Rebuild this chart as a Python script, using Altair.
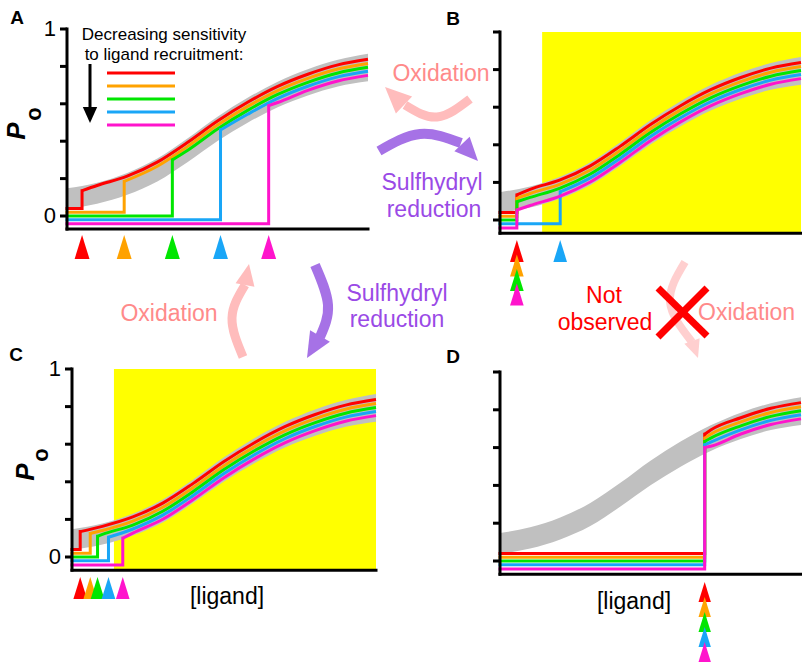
import math
import altair as alt
import pandas as pd

FONT = "Liberation Sans"

# ---------------- data ----------------
SERIES = ["red", "orange", "green", "blue", "magenta"]
SERIES_COLORS = ["#ff0000", "#ffa200", "#00e600", "#19a6f7", "#ff14cc"]

# x = [ligand] (0-100 a.u.), y = Po
CURVE_U = [0, 10, 20, 30, 40, 50, 60, 70, 80, 90, 100]
# centre line of the coloured family
CURVE_PO = [0.09, 0.12, 0.17, 0.245, 0.35, 0.465, 0.565, 0.65, 0.715, 0.765, 0.795]
# grey band edges
GRAY_UPPER = [0.148, 0.178, 0.23, 0.307, 0.414, 0.531, 0.632, 0.718, 0.785, 0.835, 0.867]
GRAY_LOWER = [0.038, 0.066, 0.114, 0.185, 0.288, 0.401, 0.499, 0.582, 0.645, 0.693, 0.72]
SERIES_OFFSET = [0.043, 0.021, 0.0, -0.021, -0.043]
LOW_PO = [0.04, 0.02, 0.0, -0.02, -0.042]

STEP_U = {
    "A": [5, 19, 35, 51, 67],
    "B": [5.6, 5.6, 5.6, 20, 5.6],
    "C": [2.7, 6.0, 8.4, 12.0, 16.7],
    "D": [68, 68, 68, 68, 68],
}
STEP_TOP = {
    "A": [0.135, 0.185, 0.30, 0.46, 0.59],
    "B": [0.133, 0.115, 0.097, 0.15, 0.053],
    "C": [0.135, 0.125, 0.11, 0.105, 0.10],
    "D": [0.67, 0.65, 0.632, 0.615, 0.60],
}
YELLOW_START = {"B": 14.0, "C": 13.8}
Y_TICKS = [0, 0.2, 0.4, 0.6, 0.8, 1.0]
Y_TICK_LABELS = ["0", "1"]
Y_TICK_LABEL_POS = [0, 1]
AXIS_PO = -0.07

# ---------------- layout (pixels) ----------------
PANEL = {
    "A": dict(x0=67, x1=368, y0=216, y1=29, labels=True, tri_tip=235, tri_h=24, tri_step=0),
    "B": dict(x0=500, x1=801, y0=220, y1=32, labels=False, tri_tip=240, tri_h=22, tri_step=14.5),
    "C": dict(x0=72, x1=376, y0=557, y1=369, labels=True, tri_tip=577, tri_h=22, tri_step=0),
    "D": dict(x0=500, x1=801, y0=561, y1=372, labels=False, tri_tip=582, tri_h=20, tri_step=15),
}
TRI_SHAPE = "M0,-1L0.62,1L-0.62,1Z"
HEAD_SHAPE = "M0,-1L0.45,0L-0.45,0Z"
GRAY = "#c0c0c0"
YELLOW = "#ffff00"
PINK_TXT = "#ff8a8a"
PINK_ARW = "#ffbcbc"
PINK_FADED = "#ffcfcf"
PURPLE_TXT = "#9a4ae6"
PURPLE_ARW = "#a672e6"


def panel(name):
    L = PANEL[name]
    xs = alt.Scale(domain=[0, 100], range=[L["x0"], L["x1"]], nice=False, zero=False)
    ys = alt.Scale(domain=[0, 1], range=[L["y0"], L["y1"]], nice=False, zero=False)

    def X(f):
        return alt.X(f, type="quantitative", scale=xs, axis=None)

    def Y(f):
        return alt.Y(f, type="quantitative", scale=ys, axis=None)

    layers = []
    if name in YELLOW_START:
        df = pd.DataFrame({"u0": [YELLOW_START[name]], "u1": [100], "p0": [AXIS_PO], "p1": [1.0]})
        layers.append(alt.Chart(df).mark_rect(color=YELLOW).encode(
            x=X("u0"), x2="u1", y=Y("p0"), y2="p1"))

    gdf = pd.DataFrame({"u": CURVE_U, "lo": GRAY_LOWER, "hi": GRAY_UPPER})
    layers.append(alt.Chart(gdf).mark_area(color=GRAY, opacity=1, interpolate="monotone").encode(
        x=X("u"), y=Y("lo"), y2="hi"))

    steps = STEP_U[name]
    tops = STEP_TOP[name]
    for k in range(5):
        su, top, c = steps[k], tops[k], SERIES_COLORS[k]
        sdf = pd.DataFrame({"u": [0, su, su], "po": [LOW_PO[k], LOW_PO[k], top], "i": [0, 1, 2]})
        layers.append(alt.Chart(sdf).mark_line(color=c, strokeWidth=3, strokeJoin="miter",
                                               strokeCap="square").encode(
            x=X("u"), y=Y("po"), order=alt.Order("i:Q")))
        cu = [su] + [u for u in CURVE_U if u > su + 1]
        cp = [top] + [p + SERIES_OFFSET[k] for u, p in zip(CURVE_U, CURVE_PO) if u > su + 1]
        cdf = pd.DataFrame({"u": cu, "po": cp, "i": list(range(len(cu)))})
        layers.append(alt.Chart(cdf).mark_line(color=c, strokeWidth=3, interpolate="monotone",
                                               strokeCap="butt").encode(
            x=X("u"), y=Y("po"), order=alt.Order("i:Q")))
        row = sum(1 for j in range(k) if steps[j] == su)
        ypix = L["tri_tip"] + row * L["tri_step"] + L["tri_h"] / 2
        tdf = pd.DataFrame({"u": [su]})
        layers.append(alt.Chart(tdf).mark_point(shape=TRI_SHAPE, filled=True, opacity=1, color=c,
                                                size=L["tri_h"] ** 2, strokeWidth=0).encode(
            x=X("u"), y=alt.value(ypix)))

    # axes
    layers.append(alt.Chart(pd.DataFrame({"u": [0], "p0": [AXIS_PO], "p1": [1.0]})).mark_rule(
        color="black", strokeWidth=3, strokeCap="square").encode(x=X("u"), y=Y("p0"), y2="p1"))
    layers.append(alt.Chart(pd.DataFrame({"u0": [0], "u1": [100], "p": [AXIS_PO]})).mark_rule(
        color="black", strokeWidth=3, strokeCap="square").encode(x=X("u0"), x2="u1", y=Y("p")))
    layers.append(alt.Chart(pd.DataFrame({"p": Y_TICKS})).mark_rule(
        color="black", strokeWidth=3).encode(x=alt.value(L["x0"] - 7), x2=alt.value(L["x0"]), y=Y("p")))
    if L["labels"]:
        ldf = pd.DataFrame({"p": Y_TICK_LABEL_POS, "t": Y_TICK_LABELS})
        layers.append(alt.Chart(ldf).mark_text(align="right", baseline="middle", fontSize=22,
                                               font=FONT, color="black").encode(
            x=alt.value(L["x0"] - 11), y=Y("p"), text="t:N"))
    return alt.layer(*layers)


ONE = pd.DataFrame({"a": [0]})


def txt(s, x, y, size=23, color="black", weight="normal", style="normal", align="center", angle=0):
    return alt.Chart(ONE).mark_text(text=s, fontSize=size, font=FONT, color=color, fontWeight=weight,
                                    fontStyle=style, align=align, baseline="middle", angle=angle).encode(
        x=alt.value(x), y=alt.value(y))


CX = alt.Scale(domain=[0, 802], range=[0, 802], nice=False, zero=False)
CY = alt.Scale(domain=[0, 662], range=[0, 662], nice=False, zero=False)

ARROWS = [
    dict(color=PINK_ARW, width=9, path=[(470, 99), (437, 117), (405, 105)], head=((404, 105), (385, 87))),
    dict(color=PURPLE_ARW, width=10, path=[(379, 151), (420, 134), (461, 143)], head=((462, 144), (478, 161))),
    dict(color=PINK_ARW, width=9, path=[(243, 357), (232, 318), (245, 285)], head=((245, 285), (249, 264))),
    dict(color=PURPLE_ARW, width=10, path=[(315, 265), (328, 305), (320, 337)], head=((320, 336), (307, 358))),
    dict(color=PINK_FADED, width=8, path=[(685, 262), (670, 302), (692, 342)], head=((692, 341), (698, 358))),
]


def annotations():
    layers = []
    for a in ARROWS:
        df = pd.DataFrame({"x": [p[0] for p in a["path"]], "y": [p[1] for p in a["path"]],
                           "i": list(range(len(a["path"])))})
        layers.append(alt.Chart(df).mark_line(color=a["color"], strokeWidth=a["width"],
                                              interpolate="natural", strokeCap="butt").encode(
            x=alt.X("x:Q", scale=CX, axis=None), y=alt.Y("y:Q", scale=CY, axis=None),
            order=alt.Order("i:Q")))
        (ax, ay), (tx, ty) = a["head"]
        length = math.hypot(tx - ax, ty - ay)
        ang = math.degrees(math.atan2(tx - ax, -(ty - ay))) % 360
        layers.append(alt.Chart(ONE).mark_point(shape=HEAD_SHAPE, filled=True, opacity=1,
                                                color=a["color"], strokeWidth=0,
                                                size=(2 * length) ** 2, angle=ang).encode(
            x=alt.value(ax), y=alt.value(ay)))

    # red X
    for (x1, y1, x2, y2) in [(658, 288, 707, 336), (707, 288, 658, 337)]:
        layers.append(alt.Chart(ONE).mark_rule(color="#ff0000", strokeWidth=7).encode(
            x=alt.value(x1), y=alt.value(y1), x2=alt.value(x2), y2=alt.value(y2)))

    # legend in A
    for k, yy in enumerate([73, 86, 99, 112, 125]):
        layers.append(alt.Chart(ONE).mark_rule(color=SERIES_COLORS[k], strokeWidth=3).encode(
            x=alt.value(107), x2=alt.value(175), y=alt.value(yy)))
    layers.append(alt.Chart(ONE).mark_rule(color="black", strokeWidth=3).encode(
        x=alt.value(90), y=alt.value(64), y2=alt.value(110)))
    layers.append(alt.Chart(ONE).mark_point(shape=HEAD_SHAPE, filled=True, opacity=1, color="black",
                                            strokeWidth=0, size=(2 * 16) ** 2, angle=180).encode(
        x=alt.value(90), y=alt.value(107)))

    layers += [
        txt("Decreasing sensitivity", 164, 35, size=17),
        txt("to ligand recruitment:", 164, 55, size=17),
        txt("Oxidation", 441, 74, color=PINK_TXT),
        txt("Sulfhydryl", 432, 183, color=PURPLE_TXT),
        txt("reduction", 434, 210, color=PURPLE_TXT),
        txt("Oxidation", 169, 314, color=PINK_TXT),
        txt("Sulfhydryl", 397, 294, color=PURPLE_TXT),
        txt("reduction", 397, 320, color=PURPLE_TXT),
        txt("Not", 604, 296, color="#ff0000"),
        txt("observed", 605, 323, color="#ff0000"),
        txt("Oxidation", 698, 313, color=PINK_TXT, align="left"),
        txt("[ligand]", 227, 597),
        txt("[ligand]", 634, 602),
        txt("A", 17, 18, size=19, weight="bold"),
        txt("B", 453, 19, size=19, weight="bold"),
        txt("C", 16, 355, size=19, weight="bold"),
        txt("D", 453, 357, size=19, weight="bold"),
        txt("P", 17, 131, size=26, weight="bold", style="italic", angle=270),
        txt("o", 34, 114, size=22, weight="bold", angle=270),
        txt("P", 26, 472, size=26, weight="bold", style="italic", angle=270),
        txt("o", 41, 455, size=22, weight="bold", angle=270),
    ]
    return alt.layer(*layers)


chart = alt.layer(
    panel("A"), panel("B"), panel("C"), panel("D"), annotations()
).resolve_scale(x="independent", y="independent").properties(
    width=802, height=662, autosize=alt.AutoSizeParams(type="none"), padding=0,
    background="white"
).configure_view(stroke=None)

chart.save("out.html", embed_options={"renderer": "svg", "actions": False})
